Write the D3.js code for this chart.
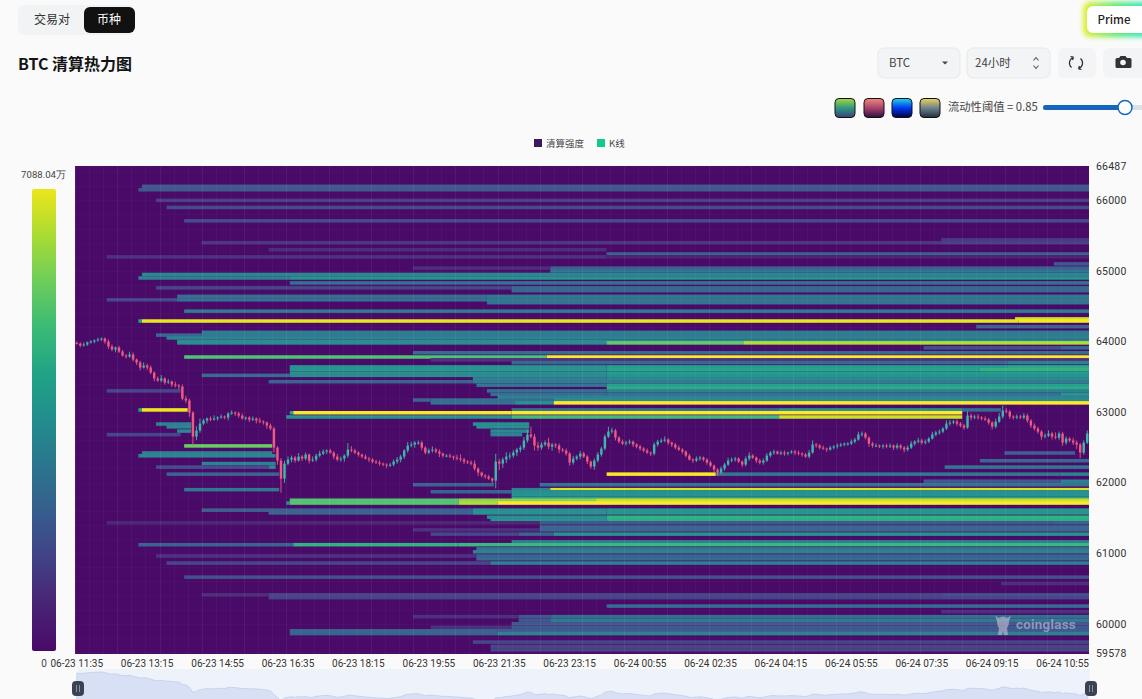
<!DOCTYPE html>
<html lang="zh">
<head>
<meta charset="utf-8">
<title>BTC 清算热力图</title>
<script src="https://cdn.jsdelivr.net/npm/d3@7/dist/d3.min.js"></script>
<style>
html,body{margin:0;padding:0;background:#fafafa;overflow:hidden}
svg{display:block}
text{font-family:"Noto Sans CJK SC","Noto Sans",sans-serif}
.num text,text.num{font-family:Roboto,"Noto Sans",sans-serif}
</style>
</head>
<body>
<div id="chart"></div>
<script>
// 5-minute BTC closes, USD, 06-23 11:35 onward
const closes = [
63971,63943,63957,63985,63999,64014,64028,64042,63999,63929,
63886,63914,63858,63801,63787,63815,63744,63702,63631,63659,
63631,63560,63475,63447,63475,63418,63432,63390,63375,63361,
63191,63163,62993,62652,62737,62837,62879,62908,62893,62908,
62922,62936,62922,62979,62993,62979,62950,62908,62922,62893,
62908,62879,62865,62851,62808,62766,62496,62312,62057,62269,
62326,62354,62312,62369,62340,62397,62312,62326,62383,62411,
62440,62454,62425,62369,62326,62340,62383,62468,62454,62425,
62397,62369,62340,62326,62298,62284,62269,62255,62241,62255,
62298,62326,62369,62454,62525,62539,62567,62567,62496,62425,
62454,62468,62440,62411,62383,62383,62369,62354,62340,62326,
62298,62284,62269,62198,62142,62099,62085,62057,62028,62298,
62269,62326,62369,62383,62425,62468,62496,62596,62681,62652,
62525,62496,62539,62567,62511,62539,62525,62468,62454,62411,
62284,62340,62369,62411,62369,62298,62227,62312,62397,62482,
62652,62723,62737,62638,62581,62553,62567,62581,62539,62511,
62482,62454,62425,62411,62539,62581,62596,62610,62567,62539,
62496,62468,62440,62383,62326,62312,62340,62354,62326,62284,
62241,62184,62142,62198,62255,62312,62326,62340,62298,62255,
62340,62383,62354,62312,62284,62312,62383,62425,62440,62411,
62425,62411,62425,62440,62425,62411,62397,62369,62425,62539,
62525,62496,62482,62468,62496,62511,62525,62539,62553,62553,
62581,62610,62681,62695,62638,62553,62525,62525,62511,62525,
62511,62525,62496,62525,62496,62468,62496,62553,62581,62596,
62567,62581,62624,62681,62709,62723,62766,62837,62851,62865,
62837,62808,62780,62950,62922,62936,62922,62908,62893,62851,
62794,62865,62936,63021,63007,62936,62922,62936,62922,62950,
62879,62808,62766,62723,62652,62666,62695,62652,62638,62695,
62567,62624,62596,62567,62539,62425,62567,62695
];
// Distance from the candle body to the top of its wick, USD
const wickUp = [
20,15,30,15,20,15,25,15,15,30,
30,15,25,20,20,40,30,15,25,45,
25,30,15,30,50,20,35,15,40,25,
30,40,25,20,60,70,25,15,30,45,
20,30,15,20,30,15,25,30,15,20,
30,15,40,20,15,30,25,20,35,40,
45,30,25,50,20,30,15,45,25,40,
30,20,25,20,35,30,15,90,50,25,
20,15,30,25,20,25,30,15,20,25,
30,35,25,20,50,40,20,30,25,20,
30,45,25,30,15,20,25,15,40,60,
25,20,30,45,20,15,20,25,15,110,
40,30,60,45,35,25,30,50,70,110,
40,55,35,30,70,25,20,30,25,30,
25,40,20,35,25,20,15,30,35,25,
30,70,40,25,20,30,25,30,15,20,
25,20,30,15,30,25,30,45,20,15,
25,30,20,15,25,20,30,25,15,20,
25,15,20,30,25,40,30,25,20,15,
30,45,20,15,25,30,35,20,25,15,
25,30,15,20,25,30,20,25,40,60,
25,20,30,15,25,20,30,25,15,20,
30,25,40,30,20,15,25,30,15,20,
25,30,15,30,20,25,30,35,20,40,
25,30,20,40,25,30,20,45,35,25,
30,20,25,60,30,25,35,20,30,25,
20,40,50,70,35,25,20,30,25,35,
25,20,30,25,20,30,45,25,60,30,
25,30,20,40,30,25,30,45
];
// Distance from the candle body to the bottom of its wick, USD
const wickDown = [
15,25,15,20,15,25,15,20,30,35,
25,40,20,15,30,20,25,35,40,15,
35,25,40,20,25,30,20,35,25,40,
25,35,60,130,50,30,20,40,25,15,
30,15,25,40,20,35,30,15,25,35,
20,40,25,30,45,25,70,60,200,60,
25,40,30,15,35,25,40,20,30,25,
20,35,15,40,25,30,45,30,25,20,
30,25,15,35,25,20,30,25,35,20,
25,30,40,35,30,25,45,30,40,25,
20,30,25,50,30,25,20,35,25,30,
35,20,25,30,50,25,30,20,35,110,
90,60,50,40,30,50,40,35,30,25,
70,45,30,25,40,60,35,50,25,30,
45,30,25,40,20,35,30,45,25,30,
25,20,30,40,25,20,30,25,35,25,
30,25,20,35,25,30,20,25,30,35,
25,20,30,25,15,35,20,30,25,30,
20,35,50,25,30,20,25,30,20,35,
25,30,20,35,25,30,20,25,30,15,
20,30,25,15,35,25,30,20,25,15,
30,25,20,35,15,25,30,20,25,30,
20,25,15,30,25,45,30,25,20,30,
25,20,35,25,30,40,25,20,30,25,
30,25,20,15,25,30,25,20,30,25,
35,25,30,20,40,25,30,25,20,30,
40,25,20,30,25,35,30,25,20,25,
30,35,25,30,45,25,20,40,25,30,
45,30,25,35,60,80,30,20
];

// Liquidation bands: price level of each row, and the runs it carries
// as [first column, end column, value in 万]
const bandPrices = [
66200,66150,66000,65900,65710,65440,65400,65300,65240,65200,65100,65040,65000,64950,64900,64830,64760,64720,
64640,64590,64550,64430,64320,64290,64210,64130,64090,64050,64000,63980,63910,63840,63780,63740,63700,63640,
63600,63550,63520,63470,63430,63380,63340,63300,63250,63210,63170,63130,63030,62990,62930,62830,62790,62730,
62680,62520,62420,62380,62310,62270,62220,62120,62020,61970,61900,61870,61830,61780,61750,61710,61610,61570,
61510,61470,61430,61370,61330,61270,61160,61120,61060,61020,60960,60920,60860,60660,60570,60410,60370,60250,
60170,60100,60050,60000,59950,59900,59860,59740,59680,59630
];
const bandRuns = [
[[19,288,1800]],
[[18,288,1800]],
[[23,288,1150]],
[[26,288,1450]],
[[31,288,1450]],
[[246,288,1000]],
[[36,246,950],[246,288,1150]],
[[55,151,750]],
[[151,288,2050]],
[[9,151,850],[151,288,500]],
[[278,288,1800]],
[[96,135,800],[135,288,2000]],
[[135,288,2500]],
[[19,288,3100]],
[[18,61,3000],[61,288,3500]],
[[61,288,2500]],
[[23,124,1350],[124,288,2200]],
[[124,288,2200]],
[[29,117,2400],[117,288,2700]],
[[9,29,1350],[29,117,2300],[117,288,2700]],
[[117,288,2600]],
[[31,288,2800]],
[[267,288,6500]],
[[18,19,4000],[19,268,6800],[268,288,7000]],
[[256,288,2000]],
[[36,288,2800]],
[[23,36,2200],[36,288,2800]],
[[26,288,3000]],
[[29,288,3200]],
[[29,151,3300],[151,190,5300],[190,288,6200]],
[[241,280,1500],[280,288,2200]],
[[96,288,2300]],
[[31,134,5000],[134,288,7088]],
[[101,288,900]],
[[124,265,2200],[265,288,2900]],
[[61,151,3500],[151,265,3900],[265,288,4200]],
[[61,151,3600],[151,257,4000],[257,288,4500]],
[[61,151,3500],[151,288,3900]],
[[36,61,2300],[61,151,3300],[151,288,3600]],
[[113,151,3000],[151,288,3300]],
[[55,113,2100],[113,288,2800]],
[[114,151,2500],[151,288,3900]],
[[151,288,4300]],
[[9,30,1350],[117,151,2400],[151,288,3000]],
[[118,151,2400],[151,280,2500],[280,288,3600]],
[[120,288,3000]],
[[96,101,2100],[101,136,2300],[136,288,3200]],
[[101,125,2500],[125,136,3500],[136,288,7088]],
[[18,19,4000],[19,32,6900],[124,200,2500],[200,252,3500],[252,263,2300]],
[[61,62,4000],[62,124,7000],[124,252,7088]],
[[60,124,3500],[124,200,4800],[200,252,6500]],
[[23,33,3000],[113,129,3400]],
[[26,33,3000],[114,129,3300]],
[[29,33,3200],[118,129,3200]],
[[9,30,1350],[118,127,3000]],
[[31,56,5400]],
[[19,56,2900],[264,284,2000]],
[[18,57,3100]],
[[257,288,2200]],
[[36,57,3000]],
[[23,55,1450],[55,57,3200],[247,288,2600]],
[[26,58,2100],[151,182,7000],[182,280,2700],[280,288,3000]],
[[241,280,1800],[280,288,2900]],
[[96,119,2100],[132,288,2500]],
[[31,58,2700],[124,135,2900],[135,288,6700]],
[[101,124,2100],[124,288,3400]],
[[124,288,3500]],
[[124,288,3900]],
[[61,109,5100],[109,148,5800],[148,288,6500]],
[[60,61,3200],[61,109,5100],[109,120,6200],[120,288,7088]],
[[36,113,2000],[113,151,3400],[151,288,3600]],
[[55,113,2100],[113,151,3500],[151,288,3600]],
[[117,151,3400],[151,288,4500]],
[[118,151,3500],[151,288,4400]],
[[9,132,650],[132,278,1800],[278,288,2000]],
[[132,288,2200]],
[[96,132,850],[132,288,2200]],
[[101,126,1350],[126,136,2100],[136,288,3500]],
[[124,288,2900]],
[[18,62,2100],[62,109,4500],[109,288,4700]],
[[114,288,2700]],
[[113,288,2900]],
[[23,114,900],[114,288,2100]],
[[114,288,2200]],
[[26,118,1350],[118,288,3000]],
[[31,288,1600]],
[[263,288,800]],
[[36,55,800],[55,246,1300],[246,288,1500]],
[[55,246,1300],[246,288,1400]],
[[151,288,2300]],
[[246,288,800]],
[[96,126,850],[126,135,1800],[135,288,2400]],
[[126,135,1800],[135,288,2800]],
[[124,288,1800]],
[[101,124,850],[124,288,1800]],
[[61,120,2100],[120,288,1900]],
[[61,120,2100],[120,288,3000]],
[[113,288,1350]],
[[118,288,1250]],
[[118,288,1250]]
];

const priceTicks = [66487,66000,65000,64000,63000,62000,61000,60000,59578];
const timeLabels = [
"06-23 11:35","06-23 13:15","06-23 14:55","06-23 16:35","06-23 18:15",
"06-23 19:55","06-23 21:35","06-23 23:15","06-24 00:55","06-24 02:35",
"06-24 04:15","06-24 05:55","06-24 07:35","06-24 09:15","06-24 10:55"
];
const maxValue = 7088.04;
const bucketSize = 50;

const width = 1142, height = 699;
const svg = d3.select("#chart").append("svg").attr("width", width).attr("height", height);
const defs = svg.append("defs");

const x = d3.scaleBand().domain(d3.range(closes.length)).range([75, 1089]).paddingInner(0);
const y = d3.scaleLinear().domain([59578, 66487]).range([653.5, 166]);
// Viridis, very slightly washed toward white like a translucent heat layer
const color = d3.scaleSequential(t => d3.interpolateRgb(d3.interpolateViridis(t), "#fff")(0.03)).domain([0, maxValue]);

// Heat layer
const heat = svg.append("g");
heat.append("rect").attr("x", 75).attr("y", 166).attr("width", 1014).attr("height", 488).attr("fill", "#490a68");
const step = x.bandwidth();
const runs = bandPrices.flatMap((p, i) => bandRuns[i].map(r => ({price: p, start: r[0], end: r[1], value: r[2]})));
heat.selectAll("rect.run").data(runs).join("rect").attr("class", "run")
  .attr("x", d => x(d.start))
  .attr("width", d => (d.end - d.start) * step)
  .attr("y", d => y(d.price + bucketSize / 2))
  .attr("height", d => y(d.price - bucketSize / 2) - y(d.price + bucketSize / 2))
  .attr("fill", d => color(d.value));

// Faint seams between heat cells
const seams = svg.append("g").attr("stroke", "#fff").attr("stroke-width", 1).attr("shape-rendering", "crispEdges");
seams.selectAll("line.v").data(d3.range(0, 288, 4)).join("line").attr("class", "v")
  .attr("x1", c => Math.round(x(c)) + .5).attr("x2", c => Math.round(x(c)) + .5)
  .attr("y1", 166).attr("y2", 654).attr("stroke-opacity", c => c % 12 === 0 ? .06 : .03);
seams.selectAll("line.h").data(d3.range(59600, 66487, 200)).join("line").attr("class", "h")
  .attr("x1", 75).attr("x2", 1089)
  .attr("y1", p => Math.round(y(p)) + .5).attr("y2", p => Math.round(y(p)) + .5).attr("stroke-opacity", .025);

// Watermark
const mark = svg.append("g").attr("fill", "#c2bed2").attr("opacity", .62);
mark.append("path").attr("d", "M995 616 L999 618 Q1003 615 1007 618 L1011 616 L1009 621 Q1009 626 1007 628 L1008 635 L1004 635 L1003 631 L1002 635 L998 635 L999 628 Q997 626 997 621 Z");
mark.append("text").attr("class", "num").attr("x", 1016).attr("y", 629).attr("font-size", 13.5).attr("font-weight", 700).attr("letter-spacing", .2).text("coinglass");

// Candles
const candleRows = closes.map((c, i) => {
  const open = i ? closes[i - 1] : c + 10;
  return {i, open, close: c, high: Math.max(open, c) + wickUp[i], low: Math.min(open, c) - wickDown[i]};
});
const upColor = "#3fb8ac", downColor = "#ee5a80";
const candles = svg.append("g").selectAll("g").data(candleRows).join("g")
  .attr("stroke", d => d.close >= d.open ? upColor : downColor)
  .attr("fill", d => d.close >= d.open ? upColor : downColor);
candles.append("line")
  .attr("x1", d => x(d.i) + step / 2).attr("x2", d => x(d.i) + step / 2)
  .attr("y1", d => y(d.high)).attr("y2", d => y(d.low)).attr("stroke-width", .9);
candles.append("rect")
  .attr("x", d => x(d.i) + .55).attr("width", step - 1.1)
  .attr("y", d => y(Math.max(d.open, d.close)))
  .attr("height", d => Math.max(1, Math.abs(y(d.open) - y(d.close))))
  .attr("stroke", "none");

// Axes
const yAxis = svg.append("g").attr("class", "num").attr("transform", "translate(1089,0)")
  .call(d3.axisRight(y).tickValues(priceTicks).tickFormat(d3.format("d")).tickSize(0).tickPadding(7));
yAxis.select(".domain").remove();
yAxis.selectAll("text").attr("font-size", 10.5).attr("fill", "#333").attr("letter-spacing", .2)
  .style("font-family", "Roboto,sans-serif");

const xAxis = svg.append("g").attr("class", "num").attr("transform", "translate(0,654)")
  .call(d3.axisBottom(x).tickValues(d3.range(0, 288, 20))
    .tickFormat((c, k) => timeLabels[k]).tickSize(0).tickPadding(6));
xAxis.select(".domain").remove();
xAxis.selectAll("text").attr("font-size", 10).attr("fill", "#333").style("font-family", "Roboto,sans-serif");

// Colour bar
const barGrad = defs.append("linearGradient").attr("id", "bar").attr("x1", 0).attr("x2", 0).attr("y1", 1).attr("y2", 0);
d3.range(0, 1.01, .1).forEach(t => barGrad.append("stop").attr("offset", t)
  .attr("stop-color", t < .05 ? "#490a68" : d3.interpolateViridis(t * .97)));
svg.append("rect").attr("x", 32).attr("y", 189).attr("width", 24).attr("height", 462).attr("rx", 2).attr("fill", "url(#bar)");
svg.append("text").attr("class", "num").attr("x", 66).attr("y", 178).attr("text-anchor", "end").attr("font-size", 9.6).attr("fill", "#444").text("7088.04万");
svg.append("text").attr("class", "num").attr("x", 44).attr("y", 667).attr("text-anchor", "middle").attr("font-size", 10).attr("fill", "#444").text("0");

// Legend
const legend = svg.append("g").attr("font-size", 9.5).attr("fill", "#444");
legend.append("rect").attr("x", 534).attr("y", 139).attr("width", 8).attr("height", 8).attr("fill", "#3b1a5e");
legend.append("text").attr("x", 546).attr("y", 146.5).text("清算强度");
legend.append("rect").attr("x", 597).attr("y", 139).attr("width", 8).attr("height", 8).attr("fill", "#12c98f");
legend.append("text").attr("x", 609).attr("y", 146.5).text("K线");

// Overview strip under the chart
svg.append("rect").attr("x", 78).attr("y", 669).attr("width", 1012).attr("height", 30).attr("fill", "#eef2fb");
const stripY = d3.scaleLinear().domain([64042, 63021]).range([672, 687]);
const strip = d3.area().x((c, i) => x(i) + step / 2).y0(700).y1(c => stripY(c));
svg.append("path").datum(closes).attr("d", strip).attr("fill", "#d8e0f5").attr("stroke", "#c4cde8").attr("stroke-width", .8);
[78, 1091].forEach(cx => {
  const h = svg.append("g");
  h.append("rect").attr("x", cx - 6).attr("y", 681).attr("width", 12).attr("height", 15).attr("rx", 4).attr("fill", "#3b4254");
  h.append("rect").attr("x", cx - 2).attr("y", 685).attr("width", 1).attr("height", 7).attr("fill", "#8a90a0");
  h.append("rect").attr("x", cx + 1).attr("y", 685).attr("width", 1).attr("height", 7).attr("fill", "#8a90a0");
});

// Page controls: tabs, title, selects, swatches, threshold slider
svg.append("rect").attr("x", 18).attr("y", 5).attr("width", 117).attr("height", 30).attr("rx", 7).attr("fill", "#f1f3f5");
svg.append("rect").attr("x", 84).attr("y", 7).attr("width", 51).attr("height", 26).attr("rx", 6).attr("fill", "#111");
svg.append("text").attr("x", 52).attr("y", 24).attr("text-anchor", "middle").attr("font-size", 12).attr("fill", "#333").text("交易对");
svg.append("text").attr("x", 109).attr("y", 24).attr("text-anchor", "middle").attr("font-size", 12).attr("fill", "#fff").text("币种");
svg.append("text").attr("x", 18).attr("y", 70).attr("font-size", 16).attr("font-weight", 700).attr("fill", "#141414").text("BTC 清算热力图");

const glow = defs.append("linearGradient").attr("id", "glow");
[[0, "#e4f02c"], [.45, "#5ceb6e"], [1, "#2ce0e0"]].forEach(s => glow.append("stop").attr("offset", s[0]).attr("stop-color", s[1]));
defs.append("filter").attr("id", "soft").attr("x", "-30%").attr("y", "-50%").attr("width", "160%").attr("height", "200%")
  .append("feGaussianBlur").attr("stdDeviation", 2.5);
svg.append("rect").attr("x", 1083).attr("y", 2).attr("width", 75).attr("height", 35).attr("rx", 7).attr("fill", "url(#glow)").attr("filter", "url(#soft)");
svg.append("rect").attr("x", 1087).attr("y", 6).attr("width", 60).attr("height", 27).attr("rx", 6).attr("fill", "#fff");
svg.append("text").attr("x", 1114).attr("y", 24).attr("text-anchor", "middle").attr("font-size", 11.5).attr("font-weight", 500).attr("fill", "#222").text("Prime");

[[878, 82], [967, 83], [1058, 38], [1103, 45]].forEach((b, i) => {
  svg.append("rect").attr("x", b[0]).attr("y", 48).attr("width", b[1]).attr("height", 30).attr("rx", 6)
    .attr("fill", "#f2f4f6").attr("stroke", i < 2 ? "#e6e9ec" : "none");
});
svg.append("text").attr("x", 889).attr("y", 67).attr("font-size", 11.5).attr("fill", "#444").text("BTC");
svg.append("path").attr("d", "M942 61.5 h6 l-3 3 z").attr("fill", "#444");
svg.append("text").attr("x", 975).attr("y", 67).attr("font-size", 11.5).attr("fill", "#444").text("24小时");
svg.append("path").attr("d", "M1033.5 60.5 l2.5 -3 l2.5 3 M1033.5 65.5 l2.5 3 l2.5 -3").attr("fill", "none").attr("stroke", "#555").attr("stroke-width", 1.1);
svg.append("path").attr("d", "M1073 57.5 a6 6 0 0 0 -1.5 10 M1079 68.5 a6 6 0 0 0 1.5 -10 M1073.5 57 l-3 -.5 M1073.5 57 l-1 3 M1078.5 69 l3 .5 M1078.5 69 l1 -3")
  .attr("fill", "none").attr("stroke", "#333").attr("stroke-width", 1.2);
svg.append("path").attr("d", "M1116 58 h3 l1.5 -2 h5 l1.5 2 h3 a1.5 1.5 0 0 1 1.5 1.5 v7 a1.5 1.5 0 0 1 -1.5 1.5 h-13 a1.5 1.5 0 0 1 -1.5 -1.5 v-7 a1.5 1.5 0 0 1 1.5 -1.5 z").attr("fill", "#333");
svg.append("circle").attr("cx", 1123).attr("cy", 62.5).attr("r", 2.8).attr("fill", "#f2f4f6");

const swatches = [
  [835, ["#a6d83c", "#2f9a80", "#3a3f7a"]],
  [864, ["#ef8a78", "#a8426c", "#2c1040"]],
  [892, ["#20d8ec", "#0038f0", "#000040"]],
  [920, ["#ecd45c", "#70808c", "#1e2e40"]]
];
swatches.forEach((s, i) => {
  const g = defs.append("linearGradient").attr("id", "sw" + i).attr("x1", 0).attr("x2", 0).attr("y1", 0).attr("y2", 1);
  s[1].forEach((c, k) => g.append("stop").attr("offset", k / 2).attr("stop-color", c));
  svg.append("rect").attr("x", s[0]).attr("y", 98.5).attr("width", 20).attr("height", 19).attr("rx", 4)
    .attr("fill", "url(#sw" + i + ")").attr("stroke", "#111").attr("stroke-width", 1);
});
svg.append("text").attr("x", 948).attr("y", 111).attr("font-size", 11.3).attr("fill", "#444").text("流动性阈值 = 0.85");
svg.append("rect").attr("x", 1043).attr("y", 105).attr("width", 99).attr("height", 5).attr("fill", "#d9e2e8");
svg.append("rect").attr("x", 1043).attr("y", 105).attr("width", 82).attr("height", 5).attr("rx", 2.5).attr("fill", "#1565c0");
svg.append("circle").attr("cx", 1125).attr("cy", 107.5).attr("r", 7).attr("fill", "#fff").attr("stroke", "#1565c0").attr("stroke-width", 1.5);
</script>
</body>
</html>
